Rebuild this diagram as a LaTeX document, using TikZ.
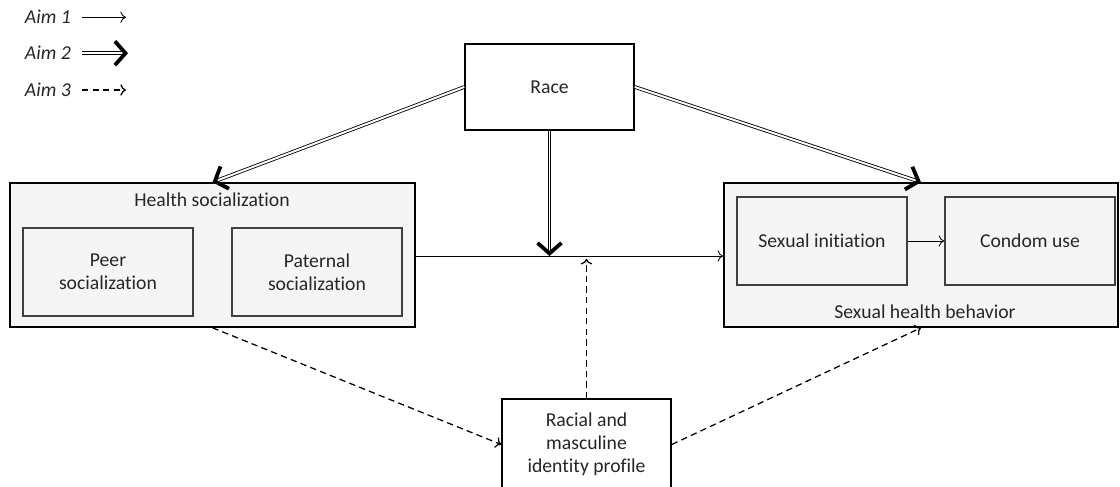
\documentclass[tikz,border=0pt]{standalone}
\usepackage{fontspec}
\setmainfont{Carlito}[Ligatures=NoCommon]
\usepackage{tikz}
\usetikzlibrary{arrows.meta}

\tikzset{
  every node/.style={font=\fontsize{14}{16.5}\selectfont, text=black!85},
  box/.style={draw, line width=1.1pt, align=center, inner sep=0pt},
  outerbox/.style={box, fill=black!4},
  innerbox/.style={draw=black!75, line width=1pt, fill=black!4, align=center, inner sep=0pt,
    minimum width=4.25cm, minimum height=2.2cm},
  aimone/.style={line width=0.6pt, -{To[length=4pt,width=8pt]}},
  aimtwo/.style={double, double distance=1.4pt, line width=0.6pt,
    -{Straight Barb[line width=2.7pt,length=7.5pt,width=17pt]}},
  aimthree/.style={line width=0.9pt, dash pattern=on 4.5pt off 3pt, -{To[length=4pt,width=8pt]}}
}

\begin{document}
\begin{tikzpicture}
\useasboundingbox (0,0) rectangle (28,-12.15);
% legend
\node [anchor=west] (aim1) at (0.5,-0.43) {\textit{Aim 1}};
\node [anchor=west] (aim2) at (0.5,-1.33) {\textit{Aim 2}};
\node [anchor=west] (aim3) at (0.5,-2.25) {\textit{Aim 3}};
\coordinate (l1a) at (2.05,-0.43); \coordinate (l1b) at (3.15,-0.43);
\coordinate (l2a) at (2.05,-1.33); \coordinate (l2b) at (3.2,-1.33);
\coordinate (l3a) at (2.05,-2.25); \coordinate (l3b) at (3.15,-2.25);
\draw [aimone] (l1a) -- (l1b);
\draw [aimtwo] (l2a) -- (l2b);
\draw [aimthree] (l3a) -- (l3b);
% boxes
\node [box, fill=white, minimum width=4.225cm, minimum height=2.15cm] (race) at (13.7375,-2.175) {Race};
\node [outerbox, minimum width=10.125cm, minimum height=3.6cm] (health) at (5.3125,-6.375) {};
\node (healthlbl) at (5.3,-5.0) {Health socialization};
\node [innerbox] (peer) at (2.7,-6.8) {Peer\\socialization};
\node [innerbox] (paternal) at (7.925,-6.8) {Paternal\\socialization};
\node [outerbox, minimum width=9.85cm, minimum height=3.6cm] (shb) at (23.025,-6.375) {};
\node [innerbox] (init) at (20.55,-6.025) {Sexual initiation};
\node [innerbox] (condom) at (25.75,-6.025) {Condom use};
\node (shblbl) at (23.125,-7.8) {Sexual health behavior};
\node [box, fill=white, minimum width=4.225cm, minimum height=2.275cm] (ident) at (14.6625,-11.1125)
  {Racial and\\masculine\\identity profile};
\coordinate (mid) at (13.7375,-6.4);
% connectors
\draw [aimone] (mid -| health.east) -- (mid -| shb.west);
\draw [aimone] (init) -- (condom);
\draw [aimtwo] (race.west) -- (health.north);
\draw [aimtwo] (race.east) -- (shb.north);
\draw [aimtwo] (race.south) -- (mid);
\draw [aimthree, shorten >=2pt] (ident.north) -- (ident.north |- mid);
\draw [aimthree] (health.south) -- (ident.west);
\draw [aimthree] (ident.east) -- (shb.south);
\end{tikzpicture}
\end{document}
